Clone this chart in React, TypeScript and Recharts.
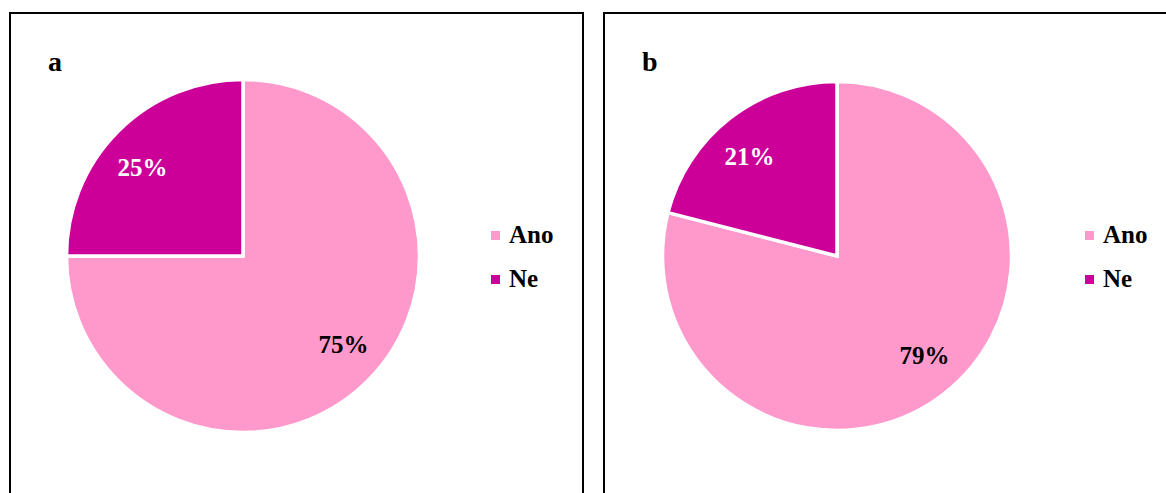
import React from "react";
import { PieChart, Pie, Cell, Legend } from "recharts";

const categories = ["Ano", "Ne"];
const valuesA = [75, 25];
const valuesB = [79, 21];
const labelsA = ["75%", "25%"];
const labelsB = ["79%", "21%"];
const colors = ["#FF99CC", "#CC0099"];
const labelColors = ["#000000", "#FFFFFF"];

const FONT =
  "'Liberation Serif', 'Times New Roman', Times, Tinos, 'Nimbus Roman', 'DejaVu Serif', serif";

const makeData = (vals: number[], labels: string[]) =>
  categories.map((name, i) => ({ name, value: vals[i], label: labels[i] }));

const RADIAN = Math.PI / 180;
const LABEL_ANGLE_SHIFT = 3.5;

const renderLabel = (props: any) => {
  const { cx, cy, midAngle, outerRadius, index, payload } = props;
  const r = outerRadius * 0.76;
  const a = midAngle + LABEL_ANGLE_SHIFT;
  const x = cx + r * Math.cos(-a * RADIAN);
  const y = cy + r * Math.sin(-a * RADIAN);
  return (
    <text
      x={x}
      y={y}
      fill={labelColors[index]}
      textAnchor="middle"
      dominantBaseline="central"
      fontFamily={FONT}
      fontWeight="bold"
      fontSize={25}
    >
      {payload.label}
    </text>
  );
};

const LegendContent = (props: any) => {
  const { payload } = props;
  return (
    <div style={{ fontFamily: FONT, fontWeight: "bold", fontSize: 25 }}>
      {payload.map((entry: any, i: number) => (
        <div
          key={i}
          style={{ display: "flex", alignItems: "center", height: 44 }}
        >
          <span
            style={{
              display: "inline-block",
              width: 9,
              height: 9,
              background: entry.color,
              marginRight: 9,
            }}
          />
          <span style={{ color: "#000" }}>{entry.value}</span>
        </div>
      ))}
    </div>
  );
};

const Panel = (props: {
  left: number;
  width: number;
  title: string;
  data: any[];
  cx: number;
  cy: number;
  r: number;
  legendLeft: number;
}) => {
  const { left, width, title, data, cx, cy, r, legendLeft } = props;
  return (
    <div
      style={{
        position: "absolute",
        left,
        top: 12,
        width,
        height: 520,
        border: "2px solid #000",
        boxSizing: "border-box",
        background: "#fff",
      }}
    >
      <div
        style={{
          position: "absolute",
          left: 37,
          top: 30,
          fontFamily: FONT,
          fontWeight: "bold",
          fontSize: 28,
          lineHeight: "36px",
        }}
      >
        {title}
      </div>
      <PieChart
        width={width - 4}
        height={480}
        margin={{ top: 0, right: 0, bottom: 0, left: 0 }}
        style={{ position: "absolute", left: 0, top: 0 }}
      >
        <Pie
          data={data}
          dataKey="value"
          nameKey="name"
          cx={cx}
          cy={cy}
          outerRadius={r}
          startAngle={90}
          endAngle={-270}
          stroke="#FFFFFF"
          strokeWidth={3.5}
          label={renderLabel}
          labelLine={false}
          isAnimationActive={false}
        >
          {data.map((_, i) => (
            <Cell key={i} fill={colors[i]} />
          ))}
        </Pie>
        <Legend
          layout="vertical"
          content={<LegendContent />}
          wrapperStyle={{ position: "absolute", left: legendLeft, top: 199, width: 80 }}
        />
      </PieChart>
    </div>
  );
}

export default function App() {
  return (
    <div
      style={{
        position: "absolute",
        left: 0,
        top: 0,
        width: 1166,
        height: 493,
        overflow: "hidden",
        background: "#fff",
      }}
    >
      <Panel
        left={9}
        width={575}
        title="a"
        data={makeData(valuesA, labelsA)}
        cx={232}
        cy={242}
        r={176.5}
        legendLeft={480}
      />
      <Panel
        left={603}
        width={600}
        title="b"
        data={makeData(valuesB, labelsB)}
        cx={232}
        cy={242}
        r={174.5}
        legendLeft={480}
      />
    </div>
  );
}
